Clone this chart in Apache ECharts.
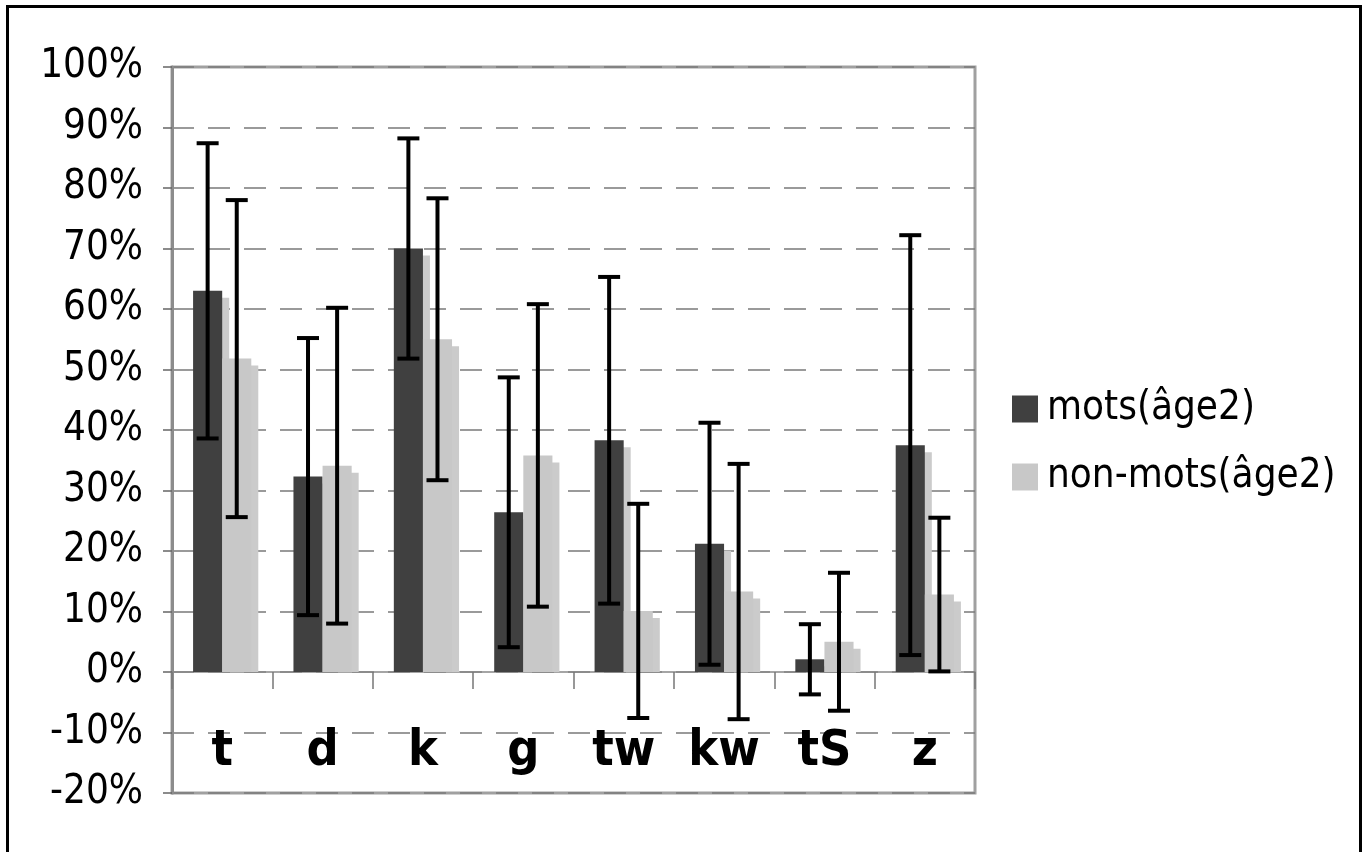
<!DOCTYPE html>
<html>
<head>
<meta charset="utf-8">
<script src="https://cdn.jsdelivr.net/npm/echarts@6/dist/echarts.min.js"></script>
<style>
html,body{margin:0;padding:0;background:#fff;}
#chart{width:1362px;height:852px;}
</style>
</head>
<body>
<div id="chart"></div>
<script>
// ---- data ----
var categories = ['t', 'd', 'k', 'g', 'tw', 'kw', 'tS', 'z'];
var seriesNames = ['mots(âge2)', 'non-mots(âge2)'];
var motsValues = [63.0, 32.3, 70.0, 26.4, 38.3, 21.2, 2.1, 37.5];
var motsErrors = [24.4, 22.9, 18.2, 22.3, 27.0, 20.0, 5.8, 34.7];
var nonMotsValues = [51.8, 34.1, 55.0, 35.8, 10.1, 13.3, 5.0, 12.8];
var nonMotsErrors = [26.2, 26.1, 23.3, 25.0, 17.7, 21.1, 11.4, 12.7];
var yTicks = {min: -20, max: 100, interval: 10};

// ---- chart ----
var FONT = '"DejaVu Sans Condensed", "DejaVu Sans", sans-serif';
var BAR_FRAC = 0.29;
var SH_X = 7, SH_Y = 7;
var chart = echarts.init(document.getElementById('chart'), null, {renderer: 'canvas'});

function shadowData() {
  return categories.map(function (c, i) { return [i, motsValues[i], nonMotsValues[i]]; });
}
function errData(vals, errs) {
  return categories.map(function (c, i) { return [i, vals[i], errs[i]]; });
}

function renderShadow(params, api) {
  var i = api.value(0);
  var zero = api.coord([i, 0]);
  var bw = api.size([1, 0])[0] * BAR_FRAC;
  var cx = zero[0];
  var children = [];
  [api.value(1), api.value(2)].forEach(function (v, k) {
    var top = api.coord([i, v])[1] + SH_Y;
    var x = (k === 0 ? cx - bw : cx) + SH_X;
    if (zero[1] - top > 0) {
      children.push({
        type: 'rect',
        shape: {x: x, y: top, width: bw, height: zero[1] - top},
        style: {fill: '#cbcbcb'}
      });
    }
  });
  return {type: 'group', children: children};
}

function makeErrRenderer(side) {
  return function (params, api) {
    var i = api.value(0);
    var v = api.value(1);
    var e = api.value(2);
    var zero = api.coord([i, 0]);
    var bw = api.size([1, 0])[0] * BAR_FRAC;
    var x = zero[0] + side * bw / 2;
    var yTop = api.coord([i, v + e])[1];
    var yBot = api.coord([i, v - e])[1];
    var cap = 11;
    var st = {stroke: '#000', lineWidth: 4, fill: null};
    return {
      type: 'group',
      children: [
        {type: 'line', shape: {x1: x, y1: yTop, x2: x, y2: yBot}, style: st},
        {type: 'line', shape: {x1: x - cap, y1: yTop, x2: x + cap, y2: yTop}, style: st},
        {type: 'line', shape: {x1: x - cap, y1: yBot, x2: x + cap, y2: yBot}, style: st}
      ]
    };
  };
}

var option = {
  animation: false,
  backgroundColor: '#ffffff',
  graphic: [{
    type: 'rect',
    shape: {x: 7.5, y: 6.5, width: 1353, height: 900},
    style: {fill: null, stroke: '#000', lineWidth: 3},
    silent: true
  }],
  grid: {
    left: 172, right: 387, top: 67, bottom: 59,
    containLabel: false, outerBoundsMode: 'none',
    show: true, borderColor: '#a0a0a0', borderWidth: 3, backgroundColor: 'transparent'
  },
  legend: {
    orient: 'vertical',
    left: 1007, top: 384,
    itemWidth: 26, itemHeight: 27, itemGap: 28,
    icon: 'rect',
    data: seriesNames,
    textStyle: {fontFamily: FONT, fontSize: 40, color: '#000', padding: [0, 0, 0, 4]}
  },
  xAxis: {
    type: 'category',
    data: categories,
    axisLine: {onZero: true, lineStyle: {color: '#888', width: 1.5}},
    axisTick: {show: true, length: 17, interval: 0, alignWithLabel: false, lineStyle: {color: '#777', width: 1.5}},
    axisLabel: {
      interval: 0, margin: -66,
      fontFamily: FONT, fontSize: 50, fontWeight: 'bold', color: '#000'
    },
    splitLine: {show: false}
  },
  yAxis: {
    type: 'value',
    min: yTicks.min, max: yTicks.max, interval: yTicks.interval,
    axisLine: {show: true, lineStyle: {color: '#8c8c8c', width: 3}},
    axisTick: {show: true, length: 9, lineStyle: {color: '#666', width: 1.5}},
    axisLabel: {
      margin: 29, formatter: '{value}%',
      fontFamily: FONT, fontSize: 40, color: '#000'
    },
    splitLine: {show: true, lineStyle: {color: '#7a7a7a', width: 1.5, type: [22, 14]}}
  },
  series: [
    {
      type: 'custom', name: '_shadow', z: 1, silent: true,
      renderItem: renderShadow, data: shadowData(),
      encode: {x: 0, y: [1, 2]}
    },
    {
      type: 'bar', name: seriesNames[0], z: 2,
      data: motsValues, barWidth: (BAR_FRAC * 100) + '%', barGap: '0%',
      itemStyle: {color: '#404040'}
    },
    {
      type: 'bar', name: seriesNames[1], z: 2,
      data: nonMotsValues, barWidth: (BAR_FRAC * 100) + '%', barGap: '0%',
      itemStyle: {color: '#c8c8c8'}
    },
    {
      type: 'custom', name: '_err1', z: 3, silent: true,
      renderItem: makeErrRenderer(-1), data: errData(motsValues, motsErrors),
      encode: {x: 0, y: 1}
    },
    {
      type: 'custom', name: '_err2', z: 3, silent: true,
      renderItem: makeErrRenderer(1), data: errData(nonMotsValues, nonMotsErrors),
      encode: {x: 0, y: 1}
    }
  ]
};
chart.setOption(option);
</script>
</body>
</html>
